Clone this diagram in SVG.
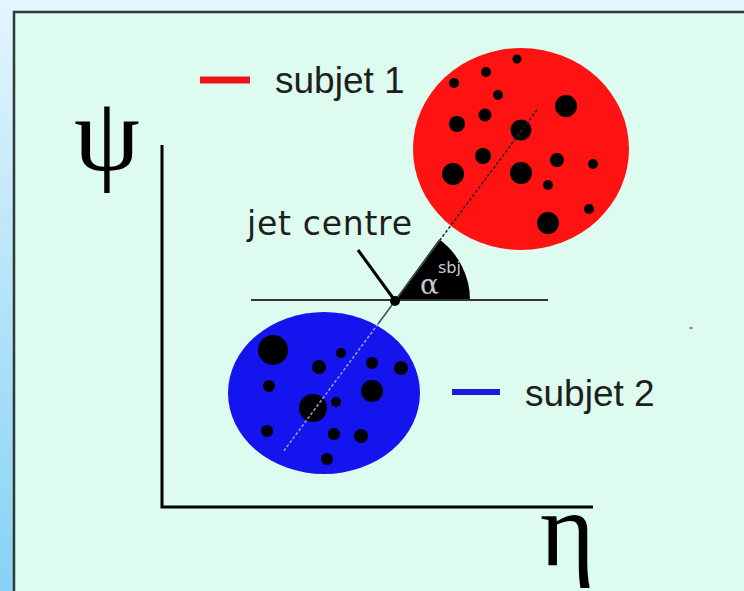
<svg xmlns="http://www.w3.org/2000/svg" width="744" height="591" viewBox="0 0 744 591">
<defs>
<linearGradient id="bgside" x1="0" y1="0" x2="0" y2="1">
<stop offset="0" stop-color="#e4f5fd"/>
<stop offset="1" stop-color="#86d2f4"/>
</linearGradient>
<style>
.dot{fill:#000}
.lbl{font-family:"Liberation Sans",Arial,sans-serif;fill:#1e1e1e}
.greek{font-family:"Liberation Serif","Times New Roman",serif;fill:#000}
.axis{stroke:#000;stroke-width:3;fill:none}
</style>
</defs>
<rect x="0" y="0" width="744" height="591" fill="#e6f6fe"/>
<rect x="0" y="0" width="15" height="591" fill="url(#bgside)"/>
<rect x="14" y="12" width="740" height="590" fill="#ddfbef" stroke="#2e3a3a" stroke-width="2.5"/>
<ellipse cx="691" cy="328" rx="2" ry="1.2" fill="#8a9a96"/>

<g id="axes">
<path class="axis" d="M162,145 V507 H593"/>
<text class="greek" x="74" y="170" font-size="105">ψ</text>
<text class="greek" x="540" y="565" font-size="105">η</text>
</g>

<g id="subjet1">
<ellipse cx="521" cy="149" rx="108" ry="101" fill="#fe1212"/>
<circle class="dot" cx="517" cy="59" r="4.5"/>
<circle class="dot" cx="486" cy="72" r="5"/>
<circle class="dot" cx="454" cy="83" r="5"/>
<circle class="dot" cx="498" cy="95" r="5"/>
<circle class="dot" cx="566" cy="106" r="11"/>
<circle class="dot" cx="485" cy="115" r="6.5"/>
<circle class="dot" cx="457" cy="124" r="8"/>
<circle class="dot" cx="521" cy="130" r="10.5"/>
<circle class="dot" cx="483" cy="156" r="8"/>
<circle class="dot" cx="557" cy="160" r="7"/>
<circle class="dot" cx="593" cy="164" r="5"/>
<circle class="dot" cx="453" cy="174" r="11"/>
<circle class="dot" cx="521" cy="173" r="11"/>
<circle class="dot" cx="548" cy="185" r="5"/>
<circle class="dot" cx="589" cy="209" r="5"/>
<circle class="dot" cx="548" cy="223" r="11"/>
</g>

<g id="subjet2">
<ellipse cx="324" cy="393" rx="96" ry="81" fill="#1414ef"/>
<circle class="dot" cx="273" cy="350" r="15"/>
<circle class="dot" cx="341" cy="353" r="5"/>
<circle class="dot" cx="319" cy="367" r="7"/>
<circle class="dot" cx="372" cy="363" r="6"/>
<circle class="dot" cx="401" cy="368" r="7"/>
<circle class="dot" cx="269" cy="386" r="6"/>
<circle class="dot" cx="372" cy="391" r="11"/>
<circle class="dot" cx="336" cy="402" r="5"/>
<circle class="dot" cx="313" cy="408" r="14"/>
<circle class="dot" cx="267" cy="431" r="6"/>
<circle class="dot" cx="334" cy="434" r="6"/>
<circle class="dot" cx="361" cy="436" r="7"/>
<circle class="dot" cx="327" cy="459" r="6"/>
</g>

<g id="legend1">
<line x1="200" y1="80" x2="250" y2="80" stroke="#f01414" stroke-width="7"/>
<text class="lbl" x="275" y="93" font-size="37">subjet 1</text>
</g>

<g id="legend2">
<line x1="452" y1="392" x2="500" y2="392" stroke="#1a1adc" stroke-width="6"/>
<text class="lbl" x="525" y="406" font-size="37">subjet 2</text>
</g>

<g id="angle">
<path d="M395,300 L470,300 A75,75 0 0 0 439.1,239.3 Z" fill="#000"/>
<text x="420" y="294" font-family="'DejaVu Serif',serif" font-size="28" fill="#c8c8c8">α</text>
<text x="438" y="273" font-family="'DejaVu Sans',sans-serif" font-size="16" fill="#c8c8c8">sbj</text>
</g>

<g id="connectors">
<line x1="251" y1="300" x2="548" y2="300" stroke="#333" stroke-width="2"/>
<line x1="440" y1="240" x2="378" y2="324" stroke="#3a4a5a" stroke-width="1.5"/>
<line x1="537" y1="110" x2="440" y2="240" stroke="#222" stroke-width="1.5" stroke-dasharray="3,2"/>
<line x1="378" y1="324" x2="283" y2="452" stroke="#9aa0c8" stroke-width="1.5" stroke-dasharray="3,2"/>
<line x1="358" y1="250" x2="393" y2="298" stroke="#000" stroke-width="3"/>
</g>

<g id="jet-centre">
<circle cx="395" cy="301" r="5" fill="#000"/>
<text x="247" y="235" font-family="'DejaVu Sans',sans-serif" font-size="33" fill="#1e1e1e" textLength="165" lengthAdjust="spacing">jet centre</text>
</g>
</svg>
